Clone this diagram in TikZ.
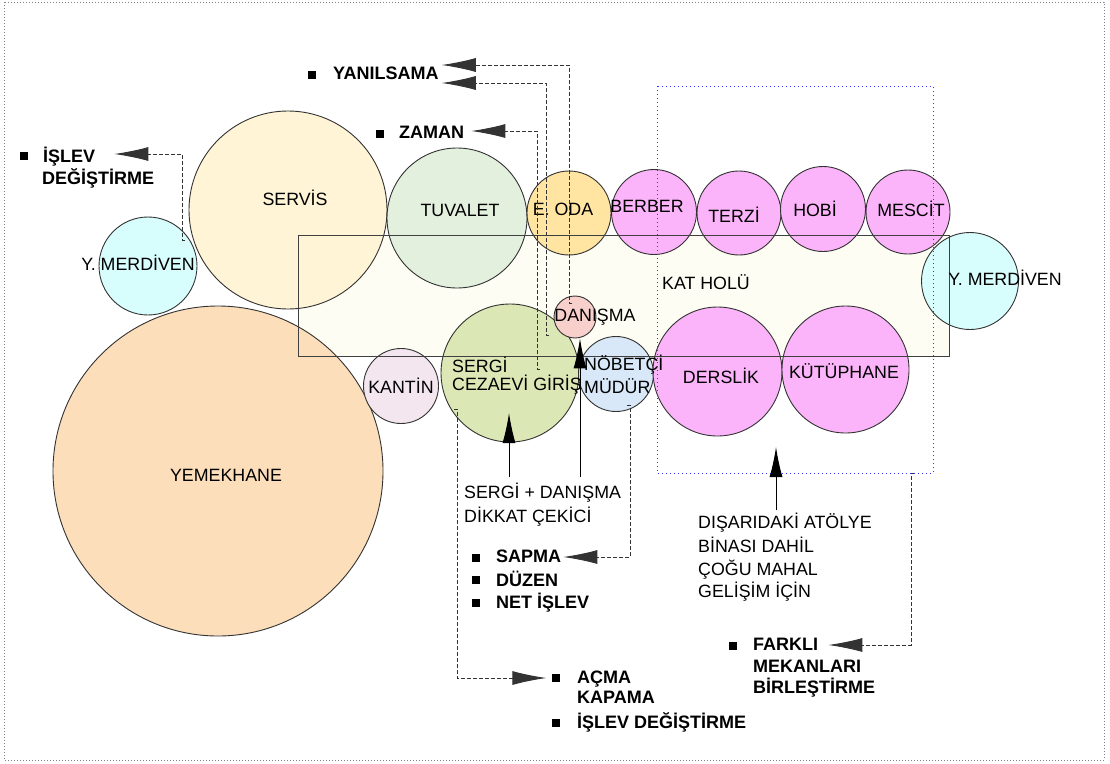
\documentclass[tikz,border=0pt]{standalone}
\usepackage{fontspec}
\setmainfont{Liberation Sans}
\usetikzlibrary{arrows.meta}
\definecolor{servisKrem}{RGB}{255,244,214}
\definecolor{tuvaletYesil}{RGB}{227,240,222}
\definecolor{odaTuruncu}{RGB}{255,228,162}
\definecolor{pembeOda}{RGB}{251,179,249}
\definecolor{merdivenMavi}{RGB}{216,253,253}
\definecolor{yemekTuruncu}{RGB}{252,222,186}
\definecolor{kantinLila}{RGB}{243,230,239}
\definecolor{sergiYesil}{RGB}{219,231,180}
\definecolor{danismaPembe}{RGB}{247,207,203}
\definecolor{nobetciMavi}{RGB}{216,232,248}
\definecolor{holKrem}{RGB}{253,253,243}
\tikzset{
  oda/.style={circle, draw=black!80, line width=0.9pt, inner sep=0pt, minimum size=#1pt},
  yazi/.style={font=\fontsize{17.8}{21}\selectfont, inner sep=0pt, anchor=base},
  solYazi/.style={yazi, anchor=base west},
  kalin/.style={solYazi, font=\fontsize{18}{21}\selectfont\bfseries},
  kare/.style={fill=black, minimum size=8pt, inner sep=0pt},
  kesik/.style={draw=black!80, line width=0.9pt, dash pattern=on 4pt off 2pt, -{Latex[length=34pt,width=14pt]}},
  ok/.style={line width=1pt, -{Latex[length=30pt,width=13pt]}}
}
\begin{document}
\begin{tikzpicture}[x=1pt, y=-1pt]
        \useasboundingbox (0,0) rectangle (1110,763);
        \draw[black!50, line width=0.9pt, dash pattern=on 1pt off 2pt] (4,2) rectangle (1104,760);
        \fill[holKrem] (298,235) rectangle (949,356);
        \node[oda=198, fill=servisKrem] (servis) at (288,210) {};
        \node[oda=140, fill=tuvaletYesil] (tuvalet) at (457,218) {};
        \node[oda=84, fill=odaTuruncu] (eoda) at (569,213) {};
        \node[oda=85, fill=pembeOda] (berber) at (654,212) {};
        \node[oda=84, fill=pembeOda] (terzi) at (739,213) {};
        \node[oda=85, fill=pembeOda] (hobi) at (823,209) {};
        \node[oda=84, fill=pembeOda] (mescit) at (908,212) {};
        \node[oda=97, fill=merdivenMavi] (merdSag) at (970,281) {};
        \node[oda=98, fill=merdivenMavi] (merdSol) at (148,266) {};
        \node[oda=330, fill=yemekTuruncu] (yemekhane) at (218,471) {};
        \node[oda=75, fill=kantinLila] (kantin) at (401,386) {};
        \node[oda=138, fill=sergiYesil] (sergi) at (510,373) {};
        \node[oda=42, fill=danismaPembe] (danisma) at (575,317) {};
        \node[oda=75, fill=nobetciMavi] (nobetci) at (616,374) {};
        \node[oda=129, fill=pembeOda] (derslik) at (717.5,371.5) {};
        \node[oda=127, fill=pembeOda] (kutuphane) at (845.5,369.5) {};
        \draw[black!75, line width=0.9pt] (298,235) rectangle (949,356);
        \draw[blue!80, line width=1pt, dash pattern=on 1pt off 3pt] (657,86) rectangle (933,473);
        \node[yazi] (servisY) at (295,205) {SERVİS};
        \node[yazi] (tuvaletY) at (460,216) {TUVALET};
        \node[yazi] (eodaY) at (563,215) {E. ODA};
        \node[yazi] (berberY) at (647,212) {BERBER};
        \node[yazi] (terziY) at (734,222) {TERZİ};
        \node[yazi] (hobiY) at (815,216) {HOBİ};
        \node[yazi] (mescitY) at (911,216) {MESCİT};
        \node[yazi] (merdSagY) at (1005,285) {Y. MERDİVEN};
        \node[yazi] (merdSolY) at (138,270) {Y. MERDİVEN};
        \node[yazi] (holY) at (706,289) {KAT HOLÜ};
        \node[yazi] (danismaY) at (595,321) {DANIŞMA};
        \node[solYazi] (nobY1) at (584,370) {NÖBETÇİ};
        \node[solYazi] (nobY2) at (584,393) {MÜDÜR};
        \node[solYazi] (sergiY1) at (452,372) {SERGİ};
        \node[solYazi] (sergiY2) at (452,390) {CEZAEVİ GİRİŞ};
        \node[yazi] (kantinY) at (401,393) {KANTİN};
        \node[yazi] (dersY) at (721,383) {DERSLİK};
        \node[yazi] (kutY) at (844,378) {KÜTÜPHANE};
        \node[yazi] (yemekY) at (226,481) {YEMEKHANE};
        \node[solYazi] (sd1) at (464,498) {SERGİ + DANIŞMA};
        \node[solYazi] (sd2) at (464,522) {DİKKAT ÇEKİCİ};
        \node[solYazi] (at1) at (698,528) {DIŞARIDAKİ ATÖLYE};
        \node[solYazi] (at2) at (698,552) {BİNASI DAHİL};
        \node[solYazi] (at3) at (698,575) {ÇOĞU MAHAL};
        \node[solYazi] (at4) at (698,597) {GELİŞİM İÇİN};
        \node[kare] (yanK) at (312,74.5) {};
        \node[kalin] (yan) at (333,79) {YANILSAMA};
        \node[kare] (zamK) at (379.5,134) {};
        \node[kalin] (zaman) at (399,138) {ZAMAN};
        \node[kare] (islK) at (23.5,156) {};
        \node[kalin] (isl1) at (43,162) {İŞLEV};
        \node[kalin] (isl2) at (42,184) {DEĞİŞTİRME};
        \node[kare] (sapK) at (475.5,558) {};
        \node[kalin] (sapma) at (496,562) {SAPMA};
        \node[kare] (duzK) at (475.5,580) {};
        \node[kalin] (duzen) at (496,586) {DÜZEN};
        \node[kare] (netK) at (475.5,603) {};
        \node[kalin] (net) at (496,608) {NET İŞLEV};
        \node[kare] (acK) at (555.5,678) {};
        \node[kalin] (ac1) at (577,683) {AÇMA};
        \node[kalin] (ac2) at (577,703) {KAPAMA};
        \node[kare] (idK) at (555.5,723) {};
        \node[kalin] (id) at (577,728) {İŞLEV DEĞİŞTİRME};
        \node[kare] (farK) at (733,646) {};
        \node[kalin] (far1) at (753,650) {FARKLI};
        \node[kalin] (far2) at (753,672) {MEKANLARI};
        \node[kalin] (far3) at (753,693) {BİRLEŞTİRME};
        \coordinate (yanS1) at (572,303);
        \coordinate (yanS2) at (549,335);
        \coordinate (zamS) at (540,369);
        \coordinate (islS) at (185,240);
        \coordinate (sapS) at (627,405);
        \coordinate (acS) at (454,409);
        \coordinate (farS) at (914,473);
        \coordinate (sgUc) at (509,413);
        \coordinate (atUc) at (776,447);
        \draw[kesik] (yanS1) -- ++(-3,0) |- ([xshift=3pt,yshift=14pt]yan.base east);
        \draw[kesik] (yanS2) -- ++(-3,0) |- ([xshift=3pt,yshift=-4pt]yan.base east);
        \draw[kesik] (zamS) -- ++(-3,0) |- ([xshift=7pt,yshift=7pt]zaman.base east);
        \draw[kesik] (islS) -- ++(-3,0) |- ([xshift=19pt,yshift=8pt]isl1.base east);
        \draw[kesik] (sapS) -- ++(3,0) |- ([xshift=2pt,yshift=5pt]sapma.base east);
        \draw[kesik] (acS) -- ++(3,0) |- ([xshift=-5pt]acK.west);
        \draw[kesik] (farS) -- ++(-3,0) |- ([xshift=10pt,yshift=5pt]far1.base east);
        \draw[ok] ([xshift=45pt,yshift=5pt]sd1.north west) -- (sgUc);
        \draw[ok] ([xshift=116pt,yshift=5pt]sd1.north west) -- ([xshift=5pt]danisma.south);
        \draw[ok] ([xshift=78pt,yshift=2pt]at1.north west) -- (atUc);
\end{tikzpicture}
\end{document}
